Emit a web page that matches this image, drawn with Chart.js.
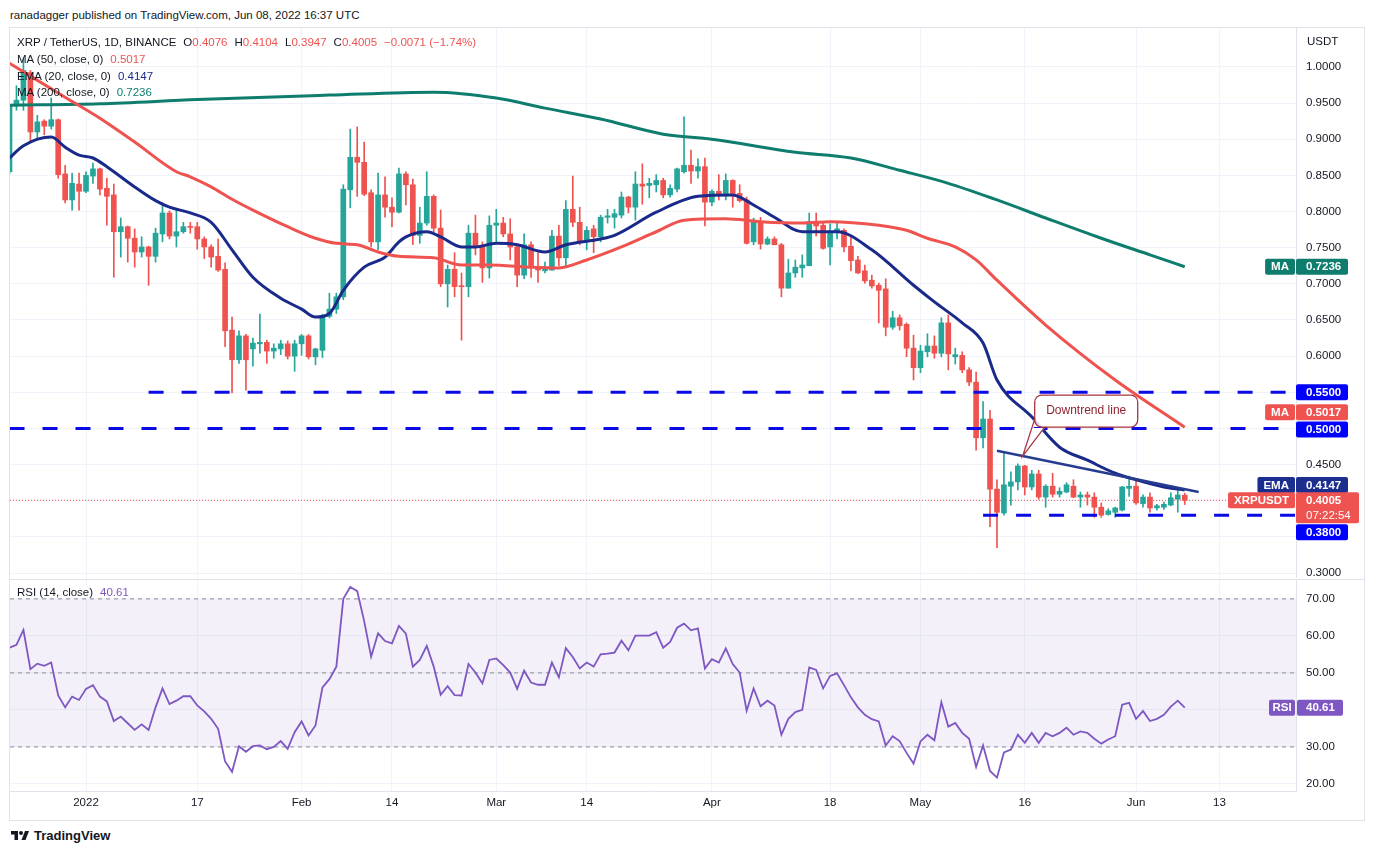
<!DOCTYPE html>
<html>
<head>
<meta charset="utf-8">
<title>XRP / TetherUS 1D</title>
<script src="https://cdn.jsdelivr.net/npm/chart.js@4.4.1/dist/chart.umd.min.js"></script>
<style>
  html, body { margin: 0; padding: 0; background: #ffffff; }
  body { position: relative; width: 1374px; height: 854px; overflow: hidden;
         font-family: "Liberation Sans", Arial, sans-serif; color: #131722; }
  canvas { position: absolute; left: 0; }
  #priceCanvas { top: 27px; }
  #rsiCanvas { top: 580px; }
  .txt { position: absolute; white-space: nowrap; font-size: 11.5px; line-height: 14px; }
  .dn { color: #ef5350; }
  .gap { margin-left: 7px; }
  #frame { position: absolute; left: 9px; top: 27px; width: 1356px; height: 794px;
           border: 1px solid #e0e3eb; box-sizing: border-box; pointer-events: none; }
  #sep { position: absolute; left: 10px; top: 579px; width: 1354px; height: 1px; background: #e0e3eb; }
  #logo { position: absolute; left: 10px; top: 828px; display: flex; align-items: center;
          font-weight: bold; font-size: 13px; color: #131722; }
  #logo svg { margin-right: 4px; }
</style>
</head>
<body>
<canvas id="priceCanvas" width="1374" height="551"></canvas>
<canvas id="rsiCanvas" width="1374" height="240"></canvas>
<div id="sep"></div>
<div id="frame"></div>

<div class="txt" style="left:10px;top:8px;">ranadagger published on TradingView.com, Jun 08, 2022 16:37 UTC</div>
<div class="txt" style="left:17px;top:35px;">XRP / TetherUS, 1D, BINANCE<span class="gap">O</span><span class="dn">0.4076</span><span class="gap">H</span><span class="dn">0.4104</span><span class="gap">L</span><span class="dn">0.3947</span><span class="gap">C</span><span class="dn">0.4005</span><span class="gap dn">&minus;0.0071 (&minus;1.74%)</span></div>
<div class="txt" style="left:17px;top:52px;">MA (50, close, 0)<span class="gap" style="color:#ef5350">0.5017</span></div>
<div class="txt" style="left:17px;top:69px;">EMA (20, close, 0)<span class="gap" style="color:#1a2a8a">0.4147</span></div>
<div class="txt" style="left:17px;top:85px;">MA (200, close, 0)<span class="gap" style="color:#0e7d6d">0.7236</span></div>
<div class="txt" style="left:1307px;top:34px;">USDT</div>
<div class="txt" style="left:17px;top:585px;">RSI (14, close)<span class="gap" style="color:#7e57c2">40.61</span></div>
<div id="logo">
  <svg width="20" height="14" viewBox="0 0 36 28"><path d="M14 22H7V11H0V4h14v18z" fill="#131722"/><circle cx="20" cy="8" r="4" fill="#131722"/><path d="M28 4h8l-7 18h-8l7-18z" fill="#131722"/></svg>
  TradingView
</div>

<script>
// days are counted from Jan 1, 2022; the first candle is Dec 21, 2021
const FIRST_DAY = -11;

const opens = [
  0.855, 0.946, 0.954, 0.992, 0.910, 0.925, 0.918, 0.927, 0.852, 0.816, 0.838,
  0.828, 0.849, 0.859, 0.832, 0.823, 0.772, 0.779, 0.763, 0.744, 0.751,
  0.738, 0.769, 0.798, 0.766, 0.772, 0.779, 0.779, 0.762, 0.751, 0.738,
  0.720, 0.636, 0.595, 0.628, 0.610, 0.617, 0.619, 0.607, 0.610, 0.617,
  0.600, 0.617, 0.628, 0.599, 0.608, 0.655, 0.665, 0.682, 0.830, 0.875,
  0.868, 0.826, 0.758, 0.823, 0.806, 0.799, 0.852, 0.837, 0.767, 0.784,
  0.821, 0.777, 0.700, 0.720, 0.697, 0.696, 0.770, 0.751, 0.722, 0.781,
  0.784, 0.769, 0.751, 0.712, 0.754, 0.723, 0.718, 0.719, 0.766, 0.736,
  0.803, 0.785, 0.759, 0.776, 0.765, 0.792, 0.792, 0.795, 0.820, 0.806,
  0.838, 0.836, 0.837, 0.843, 0.823, 0.831, 0.855, 0.864, 0.856, 0.862,
  0.813, 0.828, 0.823, 0.843, 0.825, 0.816, 0.758, 0.785, 0.755, 0.762,
  0.754, 0.694, 0.715, 0.722, 0.725, 0.786, 0.781, 0.751, 0.772, 0.774,
  0.752, 0.733, 0.718, 0.705, 0.698, 0.693, 0.640, 0.653, 0.644, 0.611,
  0.584, 0.606, 0.614, 0.604, 0.646, 0.599, 0.601, 0.581, 0.564, 0.487,
  0.513, 0.416, 0.383, 0.420, 0.426, 0.448, 0.419, 0.437, 0.405, 0.420,
  0.409, 0.412, 0.420, 0.405, 0.408, 0.405, 0.391, 0.381, 0.384, 0.387,
  0.417, 0.420, 0.396, 0.405, 0.390, 0.391, 0.394, 0.402, 0.4076
];
const highs = [
  0.948, 0.974, 1.012, 0.995, 0.933, 0.927, 0.957, 0.928, 0.864, 0.853, 0.853,
  0.855, 0.867, 0.860, 0.846, 0.838, 0.791, 0.780, 0.776, 0.765, 0.752,
  0.777, 0.812, 0.801, 0.802, 0.785, 0.785, 0.785, 0.765, 0.754, 0.762,
  0.729, 0.654, 0.635, 0.630, 0.625, 0.658, 0.622, 0.617, 0.622, 0.621,
  0.622, 0.630, 0.630, 0.611, 0.658, 0.687, 0.687, 0.837, 0.914, 0.917,
  0.896, 0.830, 0.853, 0.848, 0.819, 0.860, 0.855, 0.845, 0.806, 0.855,
  0.823, 0.802, 0.726, 0.743, 0.715, 0.781, 0.795, 0.758, 0.794, 0.803,
  0.792, 0.790, 0.754, 0.769, 0.758, 0.743, 0.730, 0.774, 0.781, 0.815,
  0.849, 0.806, 0.779, 0.781, 0.795, 0.803, 0.803, 0.827, 0.821, 0.855,
  0.866, 0.846, 0.851, 0.846, 0.837, 0.860, 0.931, 0.885, 0.873, 0.874,
  0.830, 0.851, 0.852, 0.844, 0.837, 0.820, 0.791, 0.792, 0.765, 0.765,
  0.756, 0.734, 0.733, 0.740, 0.798, 0.798, 0.784, 0.783, 0.784, 0.776,
  0.765, 0.738, 0.726, 0.712, 0.701, 0.707, 0.662, 0.657, 0.646, 0.629,
  0.615, 0.631, 0.628, 0.653, 0.657, 0.611, 0.606, 0.584, 0.578, 0.537,
  0.525, 0.429, 0.466, 0.440, 0.451, 0.449, 0.442, 0.442, 0.422, 0.438,
  0.418, 0.425, 0.429, 0.412, 0.412, 0.411, 0.397, 0.389, 0.391, 0.420,
  0.434, 0.429, 0.408, 0.411, 0.395, 0.398, 0.411, 0.416, 0.4104
];
const lows = [
  0.852, 0.940, 0.940, 0.896, 0.899, 0.906, 0.914, 0.846, 0.812, 0.802, 0.802,
  0.826, 0.839, 0.823, 0.781, 0.709, 0.737, 0.730, 0.723, 0.737, 0.698,
  0.730, 0.758, 0.762, 0.751, 0.770, 0.770, 0.748, 0.735, 0.723, 0.717,
  0.613, 0.549, 0.590, 0.553, 0.586, 0.604, 0.590, 0.597, 0.602, 0.596,
  0.579, 0.601, 0.596, 0.588, 0.598, 0.653, 0.659, 0.678, 0.805, 0.821,
  0.822, 0.751, 0.747, 0.792, 0.779, 0.798, 0.809, 0.754, 0.756, 0.781,
  0.772, 0.696, 0.668, 0.682, 0.622, 0.682, 0.740, 0.702, 0.708, 0.758,
  0.765, 0.733, 0.696, 0.707, 0.709, 0.702, 0.715, 0.719, 0.725, 0.723,
  0.779, 0.754, 0.747, 0.743, 0.758, 0.784, 0.777, 0.791, 0.798, 0.788,
  0.810, 0.819, 0.827, 0.819, 0.820, 0.827, 0.853, 0.839, 0.846, 0.780,
  0.808, 0.816, 0.816, 0.806, 0.813, 0.755, 0.754, 0.748, 0.754, 0.754,
  0.682, 0.694, 0.709, 0.709, 0.725, 0.766, 0.748, 0.726, 0.762, 0.744,
  0.718, 0.714, 0.701, 0.694, 0.646, 0.628, 0.637, 0.636, 0.599, 0.567,
  0.577, 0.599, 0.597, 0.599, 0.581, 0.589, 0.577, 0.559, 0.470, 0.473,
  0.364, 0.335, 0.380, 0.394, 0.415, 0.408, 0.415, 0.402, 0.391, 0.405,
  0.405, 0.411, 0.404, 0.391, 0.394, 0.377, 0.377, 0.380, 0.377, 0.386,
  0.406, 0.395, 0.391, 0.384, 0.387, 0.388, 0.393, 0.384, 0.3947
];
const closes = [
  0.946, 0.954, 0.995, 0.910, 0.924, 0.918, 0.927, 0.851, 0.816, 0.839, 0.828,
  0.850, 0.859, 0.831, 0.821, 0.772, 0.779, 0.763, 0.744, 0.751, 0.738,
  0.770, 0.798, 0.766, 0.772, 0.779, 0.778, 0.762, 0.751, 0.737, 0.719,
  0.635, 0.595, 0.628, 0.595, 0.618, 0.619, 0.607, 0.611, 0.617, 0.600,
  0.617, 0.628, 0.599, 0.610, 0.655, 0.665, 0.682, 0.831, 0.875, 0.868,
  0.824, 0.758, 0.823, 0.806, 0.799, 0.852, 0.837, 0.767, 0.784, 0.821,
  0.777, 0.700, 0.720, 0.696, 0.696, 0.770, 0.751, 0.722, 0.781, 0.784,
  0.769, 0.751, 0.712, 0.754, 0.723, 0.719, 0.722, 0.766, 0.736, 0.803,
  0.785, 0.759, 0.774, 0.765, 0.792, 0.794, 0.797, 0.820, 0.806, 0.838,
  0.835, 0.839, 0.843, 0.823, 0.832, 0.859, 0.864, 0.856, 0.862, 0.813,
  0.828, 0.824, 0.843, 0.825, 0.815, 0.756, 0.785, 0.755, 0.762, 0.754,
  0.694, 0.715, 0.723, 0.726, 0.786, 0.780, 0.749, 0.772, 0.776, 0.751,
  0.732, 0.715, 0.704, 0.697, 0.691, 0.640, 0.653, 0.642, 0.611, 0.584,
  0.607, 0.614, 0.604, 0.646, 0.603, 0.602, 0.581, 0.564, 0.487, 0.513,
  0.416, 0.384, 0.422, 0.426, 0.448, 0.419, 0.437, 0.405, 0.420, 0.409,
  0.413, 0.422, 0.405, 0.408, 0.405, 0.391, 0.380, 0.386, 0.390, 0.419,
  0.420, 0.397, 0.405, 0.390, 0.393, 0.395, 0.404, 0.408, 0.4005
];
const rsi = [
  56.8, 57.6, 61.6, 51.0, 52.5, 51.9, 52.8, 43.9, 40.7, 43.6, 42.7,
  45.7, 46.7, 43.6, 42.3, 37.0, 38.2, 36.4, 34.6, 36.1, 34.6,
  40.7, 45.8, 41.6, 42.5, 43.7, 43.7, 41.2, 39.6, 37.6, 34.9,
  26.1, 23.3, 30.2, 28.7, 30.2, 30.4, 29.4, 30.0, 31.6, 29.5,
  34.0, 36.9, 33.1, 35.8, 46.1, 48.3, 51.7, 70.0, 73.2, 72.1,
  64.0, 54.4, 60.7, 58.6, 58.0, 62.7, 60.6, 51.7, 53.5, 57.3,
  51.7, 44.1, 46.4, 44.0, 43.9, 52.4, 50.1, 47.2, 53.5, 53.9,
  52.1, 50.1, 45.7, 50.6, 47.4, 46.8, 46.8, 52.8, 48.8, 56.7,
  54.3, 51.2, 52.8, 51.7, 55.0, 55.2, 55.5, 58.7, 56.1, 60.1,
  60.1, 60.1, 61.0, 56.8, 58.4, 62.2, 63.3, 61.5, 62.0, 51.2,
  53.7, 52.8, 56.6, 52.4, 50.1, 39.8, 45.8, 41.0, 42.5, 41.2,
  33.3, 37.6, 39.4, 40.0, 51.5, 50.8, 45.8, 49.2, 49.9, 46.7,
  43.4, 40.7, 38.7, 37.5, 36.9, 30.4, 32.9, 31.6, 28.4, 25.5,
  31.5, 33.3, 31.8, 42.1, 35.5, 36.5, 33.8, 32.2, 24.6, 30.4,
  23.5, 21.7, 28.5, 29.3, 33.3, 31.1, 33.8, 31.1, 33.8, 32.9,
  33.8, 35.2, 33.3, 34.2, 33.8, 32.2, 30.9, 32.0, 32.9, 41.4,
  41.9, 37.6, 39.7, 37.0, 37.6, 38.7, 40.9, 42.5, 40.61
];

// moving averages at a handful of days
const ma50Days = [-11, -3, 2, 7, 13, 15, 18, 21, 24, 29, 33, 36, 39, 42, 45, 50, 54, 58, 64, 68,
                  72, 77, 82, 86, 92, 97, 103, 107, 114, 118, 121, 125, 128, 131, 138, 148, 158];
const ma50 = [1.005, 0.958, 0.929, 0.896, 0.855, 0.848, 0.834, 0.817, 0.802, 0.779, 0.763, 0.756,
              0.754, 0.744, 0.738, 0.736, 0.726, 0.726, 0.723, 0.722, 0.733, 0.751, 0.772, 0.788,
              0.790, 0.786, 0.784, 0.786, 0.781, 0.774, 0.763, 0.751, 0.733, 0.705, 0.643, 0.567, 0.5017];
const ema20Days = [-11, -9, -5, -3, -1, 1, 3, 7, 10, 12, 15, 18, 21, 24, 28, 31, 33, 35, 37, 40,
                   43, 45, 46, 49, 51, 54, 56, 59, 62, 66, 69, 74, 76, 82, 88, 93, 96, 99, 103, 108,
                   113, 119, 122, 126, 129, 131, 136, 140, 144, 148, 151, 155, 158];
const ema20 = [0.874, 0.891, 0.903, 0.889, 0.878, 0.874, 0.862, 0.834, 0.815, 0.806, 0.798, 0.785,
               0.747, 0.709, 0.680, 0.665, 0.654, 0.659, 0.691, 0.723, 0.737, 0.758, 0.765, 0.772,
               0.765, 0.751, 0.751, 0.756, 0.754, 0.744, 0.754, 0.762, 0.767, 0.799, 0.821, 0.823,
               0.809, 0.792, 0.772, 0.772, 0.747, 0.698, 0.675, 0.646, 0.618, 0.567, 0.516, 0.474,
               0.456, 0.438, 0.429, 0.419, 0.4147];
const ma200Days = [-11, 2, 16, 35, 50, 59, 66, 74, 83, 90, 102, 110, 117, 124, 131, 138, 146, 153, 158];
const ma200 = [0.947, 0.949, 0.955, 0.961, 0.965, 0.957, 0.943, 0.928, 0.907, 0.900, 0.882, 0.874,
               0.857, 0.839, 0.816, 0.791, 0.763, 0.740, 0.7236];

// drawn levels and the downtrend line
const levelPrices = [0.55, 0.50, 0.38];
const levelFromDays = [9, -11, 129];
const trendDays = [131, 160];
const trendPrices = [0.469, 0.412];
const noteDay = 134.7;

const tickDays = [0, 16, 31, 44, 59, 72, 90, 107, 120, 135, 151, 163];
const tickLabels = ['2022', '17', 'Feb', '14', 'Mar', '14', 'Apr', '18', 'May', '16', 'Jun', '13'];
const priceTicks = [0.30, 0.35, 0.40, 0.45, 0.50, 0.55, 0.60, 0.65, 0.70, 0.75, 0.80, 0.85, 0.90, 0.95, 1.00];
const rsiTicks = [20, 30, 40, 50, 60, 70];
const rsiLevels = [70, 50, 30];

// view window
const X_MIN = -10.93, X_MAX = 174;
const PRICE_MIN = 0.2931, PRICE_MAX = 1.0552;
const RSI_MIN = 18.1, RSI_MAX = 75.1;

const UP = '#26a69a', DOWN = '#ef5350';
const MA50_COLOR = '#ef5350', EMA_COLOR = '#1a2a8a', MA200_COLOR = '#0e7d6d';
const LEVEL_COLOR = '#0a0ae6', TREND_COLOR = '#263d8f', RSI_COLOR = '#7e57c2';
const GRID = '#f0f3fa';
const FONT = '"Liberation Sans", Arial, sans-serif';

const candleDays = opens.map((_, i) => FIRST_DAY + i);
const candleColors = closes.map((c, i) => (c >= opens[i] ? UP : DOWN));
const lastIdx = closes.length - 1;

const priceTags = [
  { label: 'MA', value: ma200[ma200.length - 1], color: MA200_COLOR, shift: 0 },
  { label: null, value: levelPrices[0], color: '#0000ff', shift: 0 },
  { label: 'MA', value: ma50[ma50.length - 1], color: MA50_COLOR, shift: -15 },
  { label: null, value: levelPrices[1], color: '#0000ff', shift: 1 },
  { label: 'EMA', value: ema20[ema20.length - 1], color: '#1c2f8f', shift: -5 },
  { label: 'XRPUSDT', value: closes[lastIdx], color: DOWN, shift: 0, extra: '07:22:54' },
  { label: null, value: levelPrices[2], color: '#0000ff', shift: 17 }
];

function noPad(s) {
  s.paddingTop = 0; s.paddingBottom = 0; s.paddingLeft = 0; s.paddingRight = 0;
}

function lineSet(days, values, color, width, order) {
  return {
    type: 'line',
    data: days.map((d, i) => ({ x: d, y: values[i] })),
    borderColor: color,
    borderWidth: width,
    pointRadius: 0,
    cubicInterpolationMode: 'monotone',
    order: order
  };
}

function drawTag(ctx, left, y, t) {
  const h = 16;
  const w = t.extra ? 63 : 52;
  const boxH = t.extra ? 31 : h;
  ctx.save();
  ctx.fillStyle = t.color;
  ctx.beginPath();
  ctx.roundRect(left, y - h / 2, w, boxH, 2);
  ctx.fill();
  ctx.font = 'bold 11.5px ' + FONT;
  ctx.textBaseline = 'middle';
  ctx.textAlign = 'left';
  ctx.fillStyle = '#ffffff';
  ctx.fillText(t.value.toFixed(4), left + 10, y + 0.5);
  if (t.extra) {
    ctx.font = '11.5px ' + FONT;
    ctx.fillText(t.extra, left + 10, y + 15);
  }
  if (t.label) {
    ctx.font = 'bold 11.5px ' + FONT;
    const lw = ctx.measureText(t.label).width + 12;
    ctx.fillStyle = t.color;
    ctx.beginPath();
    ctx.roundRect(left - 1 - lw, y - h / 2, lw, h, 2);
    ctx.fill();
    ctx.fillStyle = '#ffffff';
    ctx.textAlign = 'center';
    ctx.fillText(t.label, left - 1 - lw / 2, y + 0.5);
  }
  ctx.restore();
}

const notePlugin = {
  id: 'downtrendNote',
  afterDatasetsDraw(chart) {
    const xs = chart.scales.x, ys = chart.scales.y, ctx = chart.ctx;
    const f = (noteDay - trendDays[0]) / (trendDays[1] - trendDays[0]);
    const tipX = xs.getPixelForValue(noteDay);
    const tipY = ys.getPixelForValue(trendPrices[0] + (trendPrices[1] - trendPrices[0]) * f);
    const bx = tipX + 12, bw = 103, bh = 32, by = tipY - 29 - bh;
    ctx.save();
    ctx.strokeStyle = '#a9343f';
    ctx.lineWidth = 1.3;
    ctx.fillStyle = 'rgba(255,255,255,0.85)';
    ctx.beginPath();
    ctx.roundRect(bx, by, bw, bh, 7);
    ctx.fill();
    ctx.stroke();
    ctx.fillStyle = '#ffffff';
    ctx.beginPath();
    ctx.moveTo(bx - 1, by + bh - 8);
    ctx.lineTo(tipX, tipY);
    ctx.lineTo(bx + 10, by + bh + 1);
    ctx.lineTo(bx - 1, by + bh + 1);
    ctx.closePath();
    ctx.fill();
    ctx.beginPath();
    ctx.moveTo(bx, by + bh - 8);
    ctx.lineTo(tipX, tipY);
    ctx.lineTo(bx + 10, by + bh);
    ctx.stroke();
    ctx.fillStyle = '#8e2330';
    ctx.font = '12px ' + FONT;
    ctx.textAlign = 'center';
    ctx.textBaseline = 'middle';
    ctx.fillText('Downtrend line', bx + bw / 2, by + bh / 2);
    ctx.restore();
  },
  afterDraw(chart) {
    const ys = chart.scales.y;
    priceTags.forEach(t => drawTag(chart.ctx, chart.chartArea.right, ys.getPixelForValue(t.value) + t.shift, t));
  }
};

const priceDatasets = [
  {
    type: 'line',
    data: trendDays.map((d, i) => ({ x: d, y: trendPrices[i] })),
    borderColor: TREND_COLOR, borderWidth: 2.5, pointRadius: 0, order: 0
  },
  ...levelPrices.map((p, i) => ({
    type: 'line',
    data: [{ x: levelFromDays[i], y: p }, { x: X_MAX, y: p }],
    borderColor: LEVEL_COLOR, borderWidth: 3, borderDash: [15, 18], pointRadius: 0, order: 1
  })),
  lineSet(ma50Days, ma50, MA50_COLOR, 3, 2),
  lineSet(ema20Days, ema20, EMA_COLOR, 3, 2),
  lineSet(ma200Days, ma200, MA200_COLOR, 3, 2),
  {
    type: 'bar',
    data: candleDays.map((d, i) => ({ x: d, y: [opens[i], closes[i]] })),
    backgroundColor: candleColors, barThickness: 5, minBarLength: 1, grouped: false, order: 3
  },
  {
    type: 'bar',
    data: candleDays.map((d, i) => ({ x: d, y: [lows[i], highs[i]] })),
    backgroundColor: candleColors, barThickness: 1, grouped: false, order: 4
  },
  {
    type: 'line',
    data: [{ x: X_MIN, y: closes[lastIdx] }, { x: X_MAX, y: closes[lastIdx] }],
    borderColor: DOWN, borderWidth: 1, borderDash: [1, 2], pointRadius: 0, order: 5
  }
];

new Chart(document.getElementById('priceCanvas'), {
  type: 'bar',
  data: { datasets: priceDatasets },
  options: {
    responsive: false,
    animation: false,
    layout: { padding: { left: 10, right: 0, top: 0, bottom: 0 } },
    plugins: { legend: { display: false }, tooltip: { enabled: false } },
    scales: {
      x: {
        type: 'linear', min: X_MIN, max: X_MAX, offset: false,
        ticks: { display: false },
        grid: { color: GRID, drawTicks: false, offset: false },
        border: { display: false },
        afterBuildTicks: s => { s.ticks = tickDays.map(v => ({ value: v })); },
        afterFit: s => { s.height = 0; noPad(s); }
      },
      y: {
        position: 'right', min: PRICE_MIN, max: PRICE_MAX,
        ticks: { color: '#131722', padding: 10, font: { size: 11.5, family: FONT },
                 callback: v => Number(v).toFixed(4) },
        grid: { color: GRID, drawTicks: false },
        border: { color: '#e0e3eb' },
        afterBuildTicks: s => { s.ticks = priceTicks.map(v => ({ value: v })); },
        afterFit: s => { s.width = 78; noPad(s); }
      }
    }
  },
  plugins: [notePlugin]
});

const rsiTagPlugin = {
  id: 'rsiTag',
  afterDraw(chart) {
    const ctx = chart.ctx, ys = chart.scales.y;
    const y = ys.getPixelForValue(rsi[rsi.length - 1]);
    const left = chart.chartArea.right;
    ctx.save();
    ctx.fillStyle = RSI_COLOR;
    ctx.beginPath(); ctx.roundRect(left + 1, y - 8, 46, 16, 2); ctx.fill();
    ctx.beginPath(); ctx.roundRect(left - 27, y - 8, 26, 16, 2); ctx.fill();
    ctx.fillStyle = '#ffffff';
    ctx.font = 'bold 11.5px ' + FONT;
    ctx.textBaseline = 'middle';
    ctx.textAlign = 'left';
    ctx.fillText(rsi[rsi.length - 1].toFixed(2), left + 10, y + 0.5);
    ctx.textAlign = 'center';
    ctx.fillText('RSI', left - 14, y + 0.5);
    ctx.restore();
  }
};

new Chart(document.getElementById('rsiCanvas'), {
  type: 'line',
  data: {
    datasets: [
      {
        data: candleDays.map((d, i) => ({ x: d, y: rsi[i] })),
        borderColor: RSI_COLOR, borderWidth: 1.8, pointRadius: 0, order: 0
      },
      ...rsiLevels.map(v => ({
        data: [{ x: X_MIN, y: v }, { x: X_MAX, y: v }],
        borderColor: '#8a8d96', borderWidth: 1, borderDash: [4, 4], pointRadius: 0, order: 1
      })),
      {
        data: [{ x: X_MIN, y: rsiLevels[0] }, { x: X_MAX, y: rsiLevels[0] }],
        borderWidth: 0, pointRadius: 0, fill: { value: rsiLevels[2] },
        backgroundColor: 'rgba(126,87,194,0.09)', order: 2
      }
    ]
  },
  options: {
    responsive: false,
    animation: false,
    layout: { padding: { left: 10, right: 0, top: 0, bottom: 0 } },
    plugins: { legend: { display: false }, tooltip: { enabled: false } },
    scales: {
      x: {
        type: 'linear', min: X_MIN, max: X_MAX,
        ticks: { color: '#131722', padding: 5, maxRotation: 0, font: { size: 11.5, family: FONT },
                 callback: (v, i) => tickLabels[i] },
        grid: { color: GRID, drawTicks: false },
        border: { color: '#e0e3eb' },
        afterBuildTicks: s => { s.ticks = tickDays.map(v => ({ value: v })); },
        afterFit: s => { s.height = 29; noPad(s); }
      },
      y: {
        position: 'right', min: RSI_MIN, max: RSI_MAX,
        ticks: { color: '#131722', padding: 10, font: { size: 11.5, family: FONT },
                 callback: v => Number(v).toFixed(2) },
        grid: { color: GRID, drawTicks: false },
        border: { color: '#e0e3eb' },
        afterBuildTicks: s => { s.ticks = rsiTicks.map(v => ({ value: v })); },
        afterFit: s => { s.width = 78; noPad(s); }
      }
    }
  },
  plugins: [rsiTagPlugin]
});
</script>
</body>
</html>
